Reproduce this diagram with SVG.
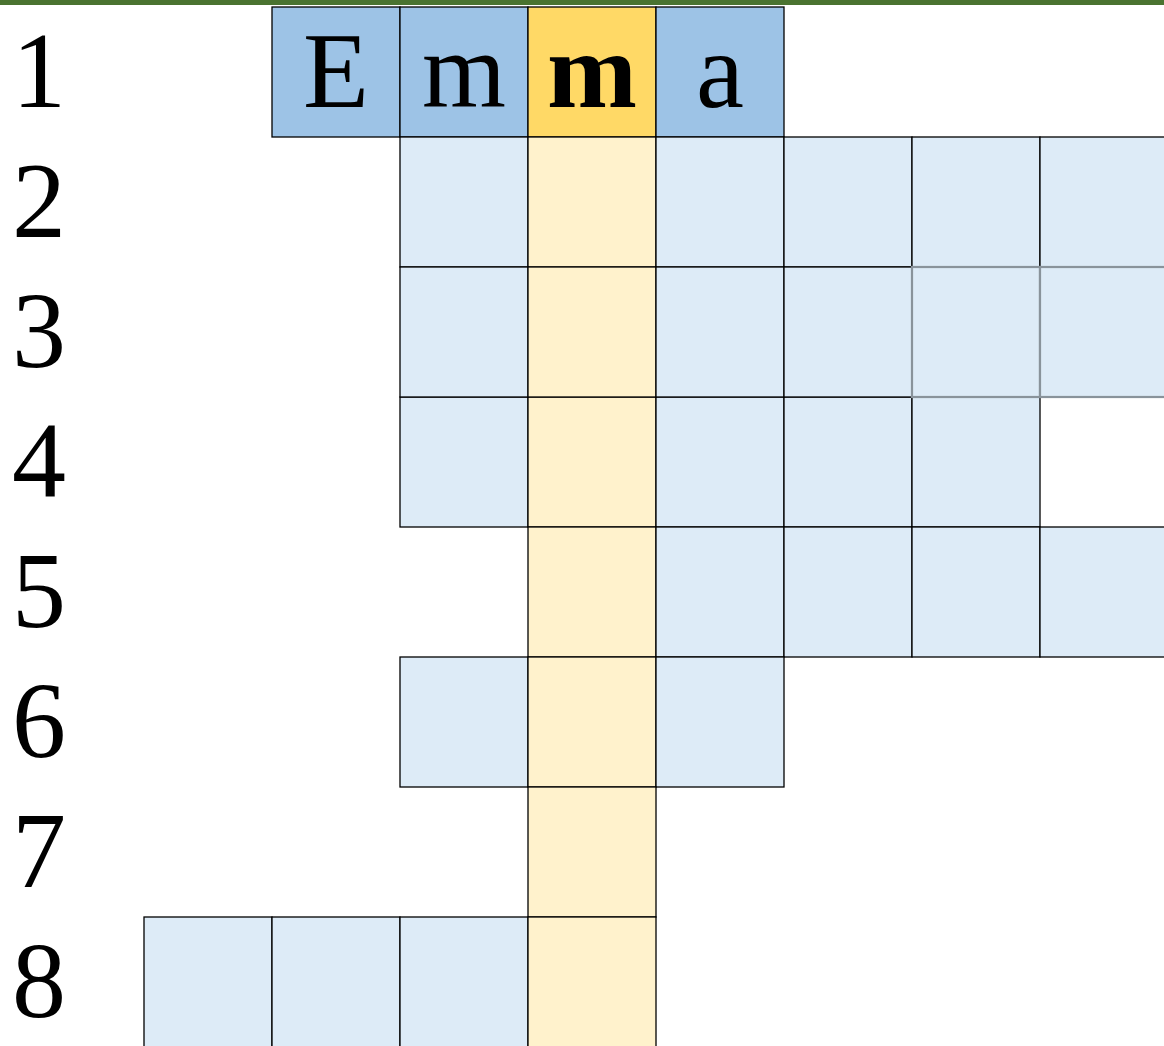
<svg xmlns="http://www.w3.org/2000/svg" width="1164" height="1046" viewBox="0 0 1164 1046">
<style>
.c{stroke:#000;stroke-width:1.3}
.db{fill:#9dc3e6}.lb{fill:#ddebf7}.y{fill:#ffd966}.ly{fill:#fff2cc}
.g{stroke:#89939b;stroke-width:2.2}
.t{font-family:"Liberation Serif","DejaVu Serif",serif;font-size:108px;text-anchor:middle;fill:#000}
</style>
<rect width="1164" height="1046" fill="#fff"/>
<rect x="0" y="0" width="1164" height="5" fill="#4a7330"/>
<g id="labels">
<text class="t" x="39" y="107">1</text>
<text class="t" x="39" y="237">2</text>
<text class="t" x="39" y="367">3</text>
<text class="t" x="39" y="497">4</text>
<text class="t" x="39" y="627">5</text>
<text class="t" x="39" y="757">6</text>
<text class="t" x="39" y="887">7</text>
<text class="t" x="39" y="1017">8</text>
</g>
<g id="row1">
<rect class="c db" x="272" y="7" width="128" height="130"/>
<rect class="c db" x="400" y="7" width="128" height="130"/>
<rect class="c y" x="528" y="7" width="128" height="130"/>
<rect class="c db" x="656" y="7" width="128" height="130"/>
<text class="t" x="336" y="107">E</text>
<text class="t" x="464" y="107">m</text>
<text class="t" x="592" y="107" font-weight="bold">m</text>
<text class="t" x="720" y="107">a</text>
</g>
<g id="row2">
<rect class="c lb" x="400" y="137" width="128" height="130"/>
<rect class="c ly" x="528" y="137" width="128" height="130"/>
<rect class="c lb" x="656" y="137" width="128" height="130"/>
<rect class="c lb" x="784" y="137" width="128" height="130"/>
<rect class="c lb" x="912" y="137" width="128" height="130"/>
<rect class="c lb" x="1040" y="137" width="128" height="130"/>
</g>
<g id="row4">
<rect class="c lb" x="400" y="397" width="128" height="130"/>
<rect class="c ly" x="528" y="397" width="128" height="130"/>
<rect class="c lb" x="656" y="397" width="128" height="130"/>
<rect class="c lb" x="784" y="397" width="128" height="130"/>
<rect class="c lb" x="912" y="397" width="128" height="130"/>
</g>
<g id="row3">
<rect class="c lb" x="400" y="267" width="128" height="130"/>
<rect class="c ly" x="528" y="267" width="128" height="130"/>
<rect class="c lb" x="656" y="267" width="128" height="130"/>
<rect class="c lb" x="784" y="267" width="128" height="130"/>
<rect class="g lb" x="912" y="267" width="128" height="130"/>
<rect class="g lb" x="1040" y="267" width="128" height="130"/>
</g>
<g id="row5">
<rect class="c ly" x="528" y="527" width="128" height="130"/>
<rect class="c lb" x="656" y="527" width="128" height="130"/>
<rect class="c lb" x="784" y="527" width="128" height="130"/>
<rect class="c lb" x="912" y="527" width="128" height="130"/>
<rect class="c lb" x="1040" y="527" width="128" height="130"/>
</g>
<g id="row6">
<rect class="c lb" x="400" y="657" width="128" height="130"/>
<rect class="c ly" x="528" y="657" width="128" height="130"/>
<rect class="c lb" x="656" y="657" width="128" height="130"/>
</g>
<g id="row7">
<rect class="c ly" x="528" y="787" width="128" height="130"/>
</g>
<g id="row8">
<rect class="c lb" x="144" y="917" width="128" height="130"/>
<rect class="c lb" x="272" y="917" width="128" height="130"/>
<rect class="c lb" x="400" y="917" width="128" height="130"/>
<rect class="c ly" x="528" y="917" width="128" height="130"/>
</g>
</svg>
